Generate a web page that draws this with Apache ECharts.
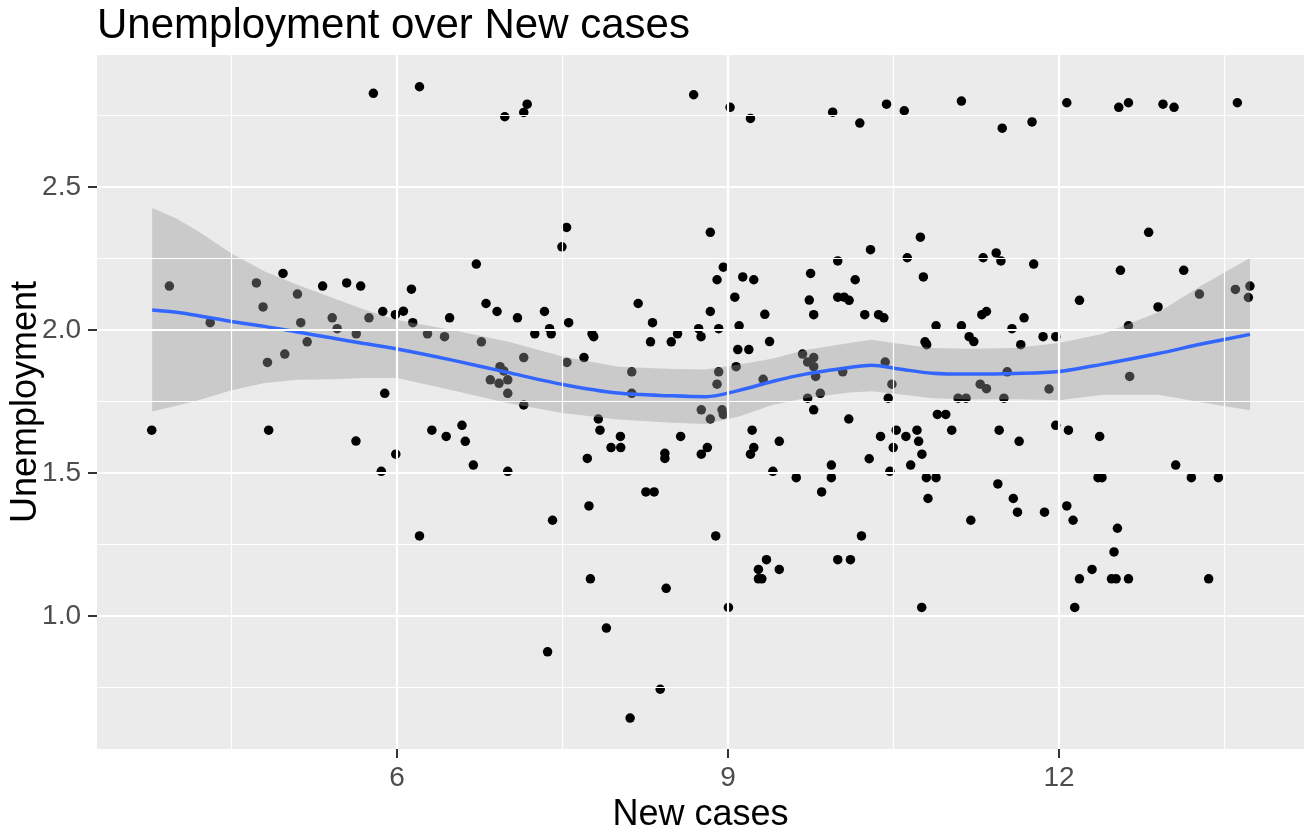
<!DOCTYPE html>
<html>
<head>
<meta charset="utf-8">
<script src="https://cdn.jsdelivr.net/npm/echarts@6/dist/echarts.min.js"></script>
<style>
  html, body { margin: 0; padding: 0; background: #fff; }
  #chart { width: 1304px; height: 832px; }
</style>
</head>
<body>
<div id="chart"></div>
<script>
// [new cases, unemployment]
const points = [
  [5.785, 2.828], [3.936, 2.154], [4.306, 2.026], [4.725, 2.165], [4.966, 2.198], [4.785, 2.081],
  [5.097, 2.126], [5.127, 2.026], [5.185, 1.959], [4.825, 1.887], [4.982, 1.916], [5.325, 2.154],
  [5.543, 2.165], [5.670, 2.154], [5.412, 2.043], [5.457, 2.005], [5.630, 1.987], [5.745, 2.043],
  [5.870, 2.065], [5.985, 2.054], [6.057, 2.066], [5.888, 1.779], [3.776, 1.650], [4.836, 1.650],
  [5.627, 1.612], [5.988, 1.566], [5.857, 1.506],
  [6.203, 2.851], [6.976, 2.746], [7.148, 2.761], [7.179, 2.790], [8.688, 2.823], [7.536, 2.359],
  [7.494, 2.291], [8.839, 2.342], [6.718, 2.231], [6.130, 2.143], [6.142, 2.026], [6.276, 1.987],
  [6.430, 1.977], [6.476, 2.043], [6.764, 1.959], [6.806, 2.093], [6.906, 2.065], [7.091, 2.043],
  [7.248, 1.987], [7.336, 2.065], [7.382, 2.005], [7.397, 1.987], [7.555, 2.026], [7.148, 1.904],
  [6.933, 1.872], [6.967, 1.857], [6.845, 1.826], [6.924, 1.814], [7.003, 1.826], [7.003, 1.779],
  [7.539, 1.887], [7.694, 1.904], [7.767, 1.987], [7.782, 1.977], [8.185, 2.093], [8.315, 2.026],
  [8.297, 1.959], [8.485, 1.959], [8.542, 1.987], [8.733, 2.005], [8.755, 1.977], [8.839, 2.065],
  [8.127, 1.854], [8.127, 1.779],
  [7.148, 1.738], [6.315, 1.650], [6.445, 1.628], [6.588, 1.667], [6.618, 1.611], [6.691, 1.528],
  [7.003, 1.506], [6.203, 1.280], [7.409, 1.335], [7.364, 0.875], [7.824, 1.689], [7.839, 1.650],
  [8.024, 1.628], [7.939, 1.589], [8.027, 1.589], [7.724, 1.551], [8.427, 1.569], [8.427, 1.551],
  [8.570, 1.628], [8.757, 1.721], [8.839, 1.689], [8.812, 1.589], [8.757, 1.566], [8.255, 1.434],
  [8.330, 1.434], [7.739, 1.385], [7.752, 1.130], [8.439, 1.097], [7.897, 0.958], [8.385, 0.744],
  [8.112, 0.643],
  [9.018, 2.779], [9.203, 2.740], [9.948, 2.762], [10.194, 2.724], [10.436, 2.790], [10.597, 2.767],
  [11.115, 2.801], [11.485, 2.706], [8.957, 2.220], [8.900, 2.176], [9.133, 2.186], [9.233, 2.176],
  [9.061, 2.115], [8.915, 2.005], [9.100, 2.015], [9.333, 2.055], [9.088, 1.932], [9.188, 1.932],
  [9.376, 1.960], [9.073, 1.872], [8.915, 1.854], [8.900, 1.811], [9.318, 1.828], [9.748, 2.198],
  [9.994, 2.242], [10.291, 2.281], [10.743, 2.325], [10.624, 2.253], [10.770, 2.186], [10.152, 2.176],
  [9.736, 2.105], [9.776, 2.054], [9.994, 2.115], [10.052, 2.115], [10.097, 2.104], [10.239, 2.054],
  [10.364, 2.054], [10.412, 2.043], [9.675, 1.916], [9.721, 1.888], [9.776, 1.904], [9.776, 1.872],
  [9.794, 1.838], [10.039, 1.854], [10.424, 1.888], [10.485, 1.811], [9.836, 1.779], [9.721, 1.762],
  [10.452, 1.762], [10.785, 1.959], [10.800, 1.949], [10.885, 2.015], [11.115, 2.015], [11.185, 1.977],
  [11.227, 1.960], [11.300, 2.054], [11.342, 2.065], [11.312, 2.253], [11.430, 2.270], [11.473, 2.242],
  [11.573, 2.005], [11.530, 1.854], [11.285, 1.811], [11.342, 1.795], [11.085, 1.762], [11.157, 1.762],
  [11.500, 1.762],
  [8.945, 1.721], [8.957, 1.705], [9.776, 1.721], [10.094, 1.689], [9.218, 1.650], [9.233, 1.589],
  [9.203, 1.566], [9.464, 1.611], [9.406, 1.506], [9.618, 1.484], [9.848, 1.434], [9.936, 1.528],
  [9.936, 1.484], [10.279, 1.550], [10.382, 1.628], [10.524, 1.650], [10.612, 1.628], [10.497, 1.589],
  [10.467, 1.506], [10.712, 1.650], [10.727, 1.611], [10.757, 1.566], [10.655, 1.528], [10.797, 1.484],
  [10.885, 1.484], [10.812, 1.411], [10.897, 1.705], [10.973, 1.705], [11.027, 1.650], [11.457, 1.650],
  [11.445, 1.462], [11.585, 1.411], [11.200, 1.335], [8.888, 1.280], [10.209, 1.280], [9.348, 1.197],
  [9.275, 1.163], [9.275, 1.130], [9.306, 1.130], [9.464, 1.163], [9.994, 1.197], [10.109, 1.197],
  [9.003, 1.030], [10.755, 1.030],
  [11.755, 2.728], [12.070, 2.795], [12.541, 2.779], [12.629, 2.795], [12.942, 2.790], [13.042, 2.779],
  [13.616, 2.795], [12.812, 2.342], [11.770, 2.231], [12.556, 2.209], [13.130, 2.209], [12.185, 2.104],
  [12.897, 2.081], [13.272, 2.126], [13.598, 2.142], [13.730, 2.154], [13.716, 2.114], [11.683, 2.043],
  [11.653, 1.949], [11.855, 1.977], [11.970, 1.977], [12.629, 2.015], [12.640, 1.838], [11.909, 1.794],
  [11.638, 1.611], [11.970, 1.667], [12.085, 1.650], [12.368, 1.628], [13.057, 1.528], [13.199, 1.484],
  [13.444, 1.484], [12.353, 1.484], [12.389, 1.484], [11.623, 1.363], [11.868, 1.363], [12.070, 1.385],
  [12.127, 1.335], [12.529, 1.307], [12.498, 1.224], [12.299, 1.163], [12.185, 1.130], [12.475, 1.130],
  [12.517, 1.130], [12.629, 1.130], [13.356, 1.130], [12.142, 1.030]
];

// loess fit and its confidence band
const fitX     = [3.78, 4.0, 4.2, 4.5, 4.8, 5.1, 5.4, 5.7, 6.0, 6.5, 7.0, 7.5, 8.0, 8.5, 8.8, 9.1, 9.4, 9.7, 10.1, 10.3, 10.55, 10.85, 11.2, 11.6, 12.0, 12.4, 12.9, 13.3, 13.73];
const fitY     = [2.07, 2.062, 2.05, 2.03, 2.013, 1.993, 1.973, 1.953, 1.934, 1.895, 1.852, 1.81, 1.78, 1.77, 1.767, 1.789, 1.82, 1.846, 1.869, 1.877, 1.864, 1.849, 1.846, 1.848, 1.855, 1.881, 1.918, 1.952, 1.985];
const fitUpper = [2.427, 2.39, 2.345, 2.268, 2.205, 2.158, 2.115, 2.072, 2.035, 2.0, 1.96, 1.908, 1.872, 1.864, 1.862, 1.88, 1.90, 1.93, 1.955, 1.966, 1.952, 1.937, 1.935, 1.937, 1.955, 1.987, 2.062, 2.158, 2.252];
const fitLower = [1.715, 1.735, 1.755, 1.79, 1.815, 1.826, 1.828, 1.832, 1.832, 1.79, 1.745, 1.71, 1.687, 1.676, 1.672, 1.698, 1.738, 1.762, 1.782, 1.786, 1.776, 1.762, 1.757, 1.758, 1.755, 1.774, 1.774, 1.747, 1.72];

const xTicks = [6, 9, 12];
const xMinor = [4.5, 7.5, 10.5, 13.5];
const yTicks = [1.0, 1.5, 2.0, 2.5];
const yMinor = [0.75, 1.25, 1.75, 2.25, 2.75];

const FONT = '"Liberation Sans", Arial, sans-serif';

const gridLines = []
  .concat(xMinor.map(v => ({xAxis: v, lineStyle: {width: 1.2}})))
  .concat(xTicks.map(v => ({xAxis: v, lineStyle: {width: 2.2}})))
  .concat(yMinor.map(v => ({yAxis: v, lineStyle: {width: 1.2}})))
  .concat(yTicks.map(v => ({yAxis: v, lineStyle: {width: 2.2}})));

const bandData = fitX.map((x, i) => [x, fitLower[i], fitUpper[i]]);

function renderBand (params, api) {
  if (params.dataIndex !== 0) return null;
  const upper = bandData.map(d => api.coord([d[0], d[2]]));
  const lower = bandData.map(d => api.coord([d[0], d[1]])).reverse();
  return {
    type: 'polygon',
    shape: {points: upper.concat(lower)},
    style: {fill: 'rgba(153,153,153,0.4)'}
  };
}

const chart = echarts.init(document.getElementById('chart'));

chart.setOption({
  animation: false,
  backgroundColor: '#ffffff',
  title: {
    text: 'Unemployment over New cases',
    left: 92,
    top: 0,
    textStyle: {fontFamily: FONT, fontSize: 42, fontWeight: 'normal', color: '#000'}
  },
  grid: {
    left: 97, right: 0, top: 55, bottom: 83,
    outerBoundsMode: 'none', containLabel: false,
    backgroundColor: '#EBEBEB', show: true, borderWidth: 0
  },
  xAxis: {
    type: 'value',
    min: 3.28,
    max: 14.22,
    name: 'New cases',
    nameLocation: 'middle',
    nameGap: 42,
    nameTextStyle: {fontFamily: FONT, fontSize: 36, color: '#000'},
    axisLine: {show: false},
    splitLine: {show: false},
    axisTick: {show: true, customValues: xTicks, length: 9, lineStyle: {color: '#333', width: 2}},
    axisLabel: {customValues: xTicks, margin: 15, fontFamily: FONT, fontSize: 28, color: '#4D4D4D'}
  },
  yAxis: {
    type: 'value',
    min: 0.535,
    max: 2.962,
    name: 'Unemployment',
    nameLocation: 'middle',
    nameGap: 53,
    nameMoveOverlap: false,
    nameTextStyle: {fontFamily: FONT, fontSize: 36, color: '#000'},
    axisLine: {show: false},
    splitLine: {show: false},
    axisTick: {show: true, customValues: yTicks, length: 9, lineStyle: {color: '#333', width: 2}},
    axisLabel: {customValues: yTicks, margin: 16, fontFamily: FONT, fontSize: 28, color: '#4D4D4D',
      formatter: v => v.toFixed(1)}
  },
  series: [
    {
      // carries the panel grid lines
      type: 'line',
      data: fitX.map((x, i) => [x, fitY[i]]),
      symbol: 'none',
      lineStyle: {opacity: 0},
      silent: true,
      z: 1,
      markLine: {
        silent: true,
        symbol: 'none',
        label: {show: false},
        lineStyle: {color: '#ffffff', type: 'solid'},
        data: gridLines
      }
    },
    {
      type: 'scatter',
      data: points,
      symbolSize: 9.5,
      itemStyle: {color: '#000', opacity: 1},
      z: 2
    },
    {
      type: 'custom',
      data: bandData,
      encode: {x: 0, y: [1, 2]},
      renderItem: renderBand,
      silent: true,
      z: 3
    },
    {
      type: 'line',
      data: fitX.map((x, i) => [x, fitY[i]]),
      symbol: 'none',
      smooth: 0.3,
      lineStyle: {color: '#3366FF', width: 3.5},
      z: 4
    }
  ]
});
</script>
</body>
</html>
